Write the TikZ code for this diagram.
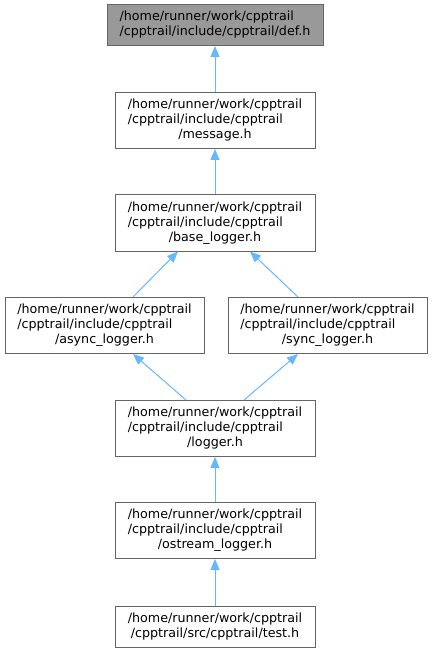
\documentclass[tikz,border=0pt]{standalone}
\usepackage{fontspec}
\setmainfont{DejaVu Sans}
\usetikzlibrary{arrows.meta,calc}
\definecolor{edgeblue}{HTML}{63B8FF}
\definecolor{boxline}{HTML}{666666}
\definecolor{deffill}{HTML}{999999}
\tikzset{
  filebox/.style={draw=boxline, line width=1pt, fill=white, minimum width=200pt,
    minimum height=56pt, inner sep=0pt, font=\fontsize{12.7}{15}\selectfont},
  twoline/.style={minimum height=41pt},
  edge/.style={draw=edgeblue, line width=1pt, {Triangle[length=11pt,width=9pt]}-}
}
\newcommand{\lines}[3]{\begin{tabular}{@{}l@{}}#1\\#2\\\multicolumn{1}{@{}c@{}}{#3}\end{tabular}}
\newcommand{\twolines}[2]{\begin{tabular}{@{}l@{}}#1\\\multicolumn{1}{@{}c@{}}{#2}\end{tabular}}
\begin{document}
\begin{tikzpicture}[x=1pt,y=-1pt]
\useasboundingbox (0,0) rectangle (432,652);
\node[filebox, twoline, fill=deffill, minimum width=216pt] (def) at (215,25)
  {\begin{tabular}{@{}l@{}}/home/runner/work/cpptrail\\/cpptrail/include/cpptrail/def.h\end{tabular}};
\node[filebox] (msg) at (215,120.5) {\lines{/home/runner/work/cpptrail}{/cpptrail/include/cpptrail}{/message.h}};
\node[filebox] (base) at (215,223) {\lines{/home/runner/work/cpptrail}{/cpptrail/include/cpptrail}{/base\_logger.h}};
\node[filebox, minimum width=199pt] (async) at (104.5,325.5) {\lines{/home/runner/work/cpptrail}{/cpptrail/include/cpptrail}{/async\_logger.h}};
\node[filebox, minimum width=199pt] (sync) at (327.5,325.5) {\lines{/home/runner/work/cpptrail}{/cpptrail/include/cpptrail}{/sync\_logger.h}};
\node[filebox] (logger) at (215,428.5) {\lines{/home/runner/work/cpptrail}{/cpptrail/include/cpptrail}{/logger.h}};
\node[filebox] (ostream) at (215,530.5) {\lines{/home/runner/work/cpptrail}{/cpptrail/include/cpptrail}{/ostream\_logger.h}};
\node[filebox, twoline] (test) at (215,626.5) {\twolines{/home/runner/work/cpptrail}{/cpptrail/src/cpptrail/test.h}};

\draw[edge] (def.south) -- (msg.north);
\draw[edge] (msg.south) -- (base.north);
\draw[edge] ([xshift=-37pt]base.south) -- ([xshift=28.5pt]async.north);
\draw[edge] ([xshift=35pt]base.south) -- ([xshift=-29.5pt]sync.north);
\draw[edge] ([xshift=28.5pt]async.south) -- ([xshift=-29pt]logger.north);
\draw[edge] ([xshift=-29.5pt]sync.south) -- ([xshift=29pt]logger.north);
\draw[edge] (logger.south) -- (ostream.north);
\draw[edge] (ostream.south) -- (test.north);
\end{tikzpicture}
\end{document}
